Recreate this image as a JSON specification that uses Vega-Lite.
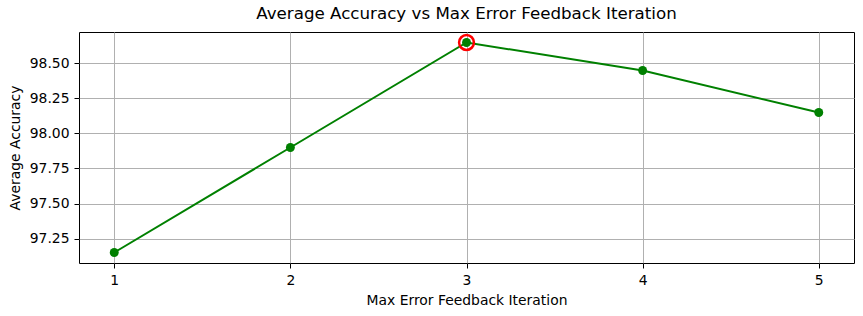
{
  "$schema": "https://vega.github.io/schema/vega-lite/v6.json",
  "autosize": {"type": "none"},
  "width": 775,
  "height": 231,
  "padding": {"left": 79, "top": 32, "right": 9, "bottom": 53},
  "background": "white",
  "title": {
    "text": "Average Accuracy vs Max Error Feedback Iteration",
    "font": "DejaVu Sans",
    "fontSize": 16.7,
    "fontWeight": "normal",
    "color": "black",
    "anchor": "middle",
    "offset": 7
  },
  "config": {
    "view": {"stroke": "black", "strokeWidth": 1},
    "axis": {
      "labelFont": "DejaVu Sans",
      "labelFontSize": 13.9,
      "labelColor": "black",
      "titleFont": "DejaVu Sans",
      "titleFontSize": 13.9,
      "titleFontWeight": "normal",
      "titleColor": "black",
      "tickColor": "black",
      "tickSize": 5,
      "tickWidth": 1,
      "domain": false,
      "grid": true,
      "gridColor": "#b0b0b0",
      "gridWidth": 1,
      "labelPadding": 5
    }
  },
  "data": {
    "values": [
      {"iter": 1, "acc": 97.15},
      {"iter": 2, "acc": 97.90},
      {"iter": 3, "acc": 98.65},
      {"iter": 4, "acc": 98.45},
      {"iter": 5, "acc": 98.15}
    ]
  },
  "encoding": {
    "x": {
      "field": "iter",
      "type": "quantitative",
      "scale": {"domain": [0.8, 5.2], "nice": false, "zero": false},
      "axis": {"values": [1, 2, 3, 4, 5], "format": "d", "title": "Max Error Feedback Iteration", "titlePadding": 7}
    },
    "y": {
      "field": "acc",
      "type": "quantitative",
      "scale": {"domain": [97.075, 98.725], "nice": false, "zero": false},
      "axis": {"values": [97.25, 97.5, 97.75, 98.0, 98.25, 98.5], "format": ".2f", "title": "Average Accuracy", "titlePadding": 7}
    }
  },
  "layer": [
    {
      "mark": {"type": "line", "color": "#008000", "strokeWidth": 2, "point": {"filled": true, "color": "#008000", "size": 80, "opacity": 1}}
    },
    {
      "transform": [{"filter": "datum.iter == 3"}],
      "mark": {"type": "point", "filled": false, "color": "red", "stroke": "red", "strokeWidth": 2.5, "size": 220, "opacity": 1}
    }
  ]
}
